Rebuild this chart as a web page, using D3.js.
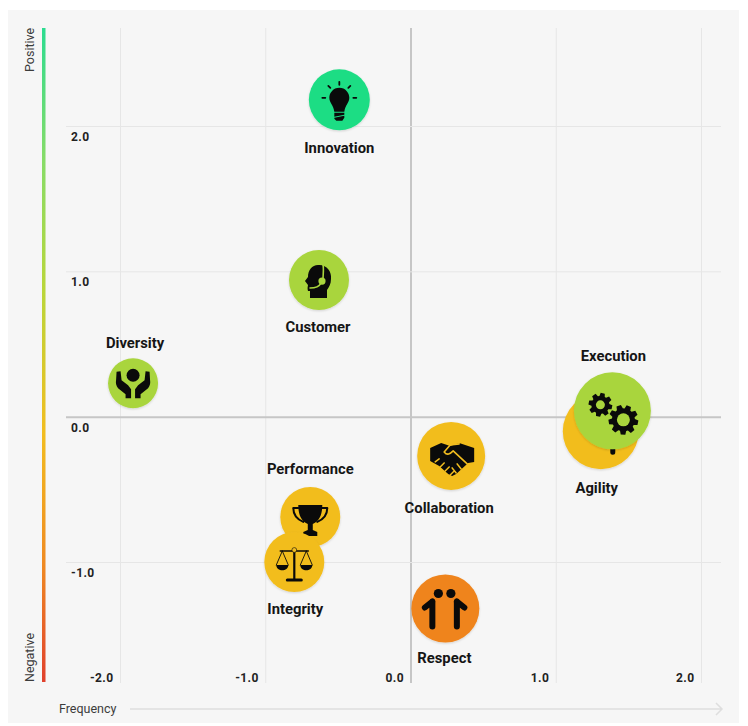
<!DOCTYPE html>
<html>
	<head>
		<meta charset="utf-8">
		<title>Values map</title>
		<style>
			body, html { margin: 0; background: #fff; }
			text { font-family: Roboto, sans-serif; }
			.tick text { font-size: 12px; font-weight: 700; fill: #222; letter-spacing: 0.4px; }
			.label { font-size: 14.8px; font-weight: 700; fill: #151515; text-anchor: middle; }
			.side { font-size: 12.5px; fill: #3c3c3c; }
		</style>
	</head>
	<body>

		<svg id="svg" width="748" height="726"></svg>

		<script src="https://d3js.org/d3.v7.min.js"></script>
		<script>
			// Data. Order is draw order (Execution over Agility, Integrity over Performance)
			const names = ['Innovation', 'Customer', 'Diversity', 'Agility', 'Execution', 'Collaboration', 'Performance', 'Integrity', 'Respect']
			const frequency = [-0.49, -0.63, -1.91, 1.31, 1.39, 0.28, -0.69, -0.80, 0.24]
			const sentiment = [2.18, 0.94, 0.23, -0.10, 0.04, -0.27, -0.69, -1.00, -1.32]
			const weight = [61, 60, 50, 76, 77, 68, 60, 60, 68]
			const xTicks = [-2, -1, 0, 1, 2]
			const yTicks = [2, 1, 0, -1]

			// Label offset from the circle centre
			const labelOffset = {
				Innovation: [0, 53], Customer: [-1, 52], Diversity: [2, -35], Agility: [-4, 62], Execution: [1, -50],
				Collaboration: [-2, 57], Performance: [0, -43], Integrity: [1, 52], Respect: [-1, 54]
			}

			const x = d3.scaleLinear().domain([-2, 2]).range([120, 701])
			const y = d3.scaleLinear().domain([-1, 2]).range([562, 126])
			const r = d3.scaleLinear().domain([0, 100]).range([0, 50])
			const color = d3.scaleThreshold().domain([-1.2, 0, 1.5]).range(['#ef841c', '#f2bd1f', '#a9d53d', '#1fdd84'])
			const tickFormat = d => d.toFixed(1)

			const plotTop = 28, plotBottom = 683, plotLeft = 66, plotRight = 721
			const svg = d3.select('#svg')

			svg.append('rect')
				.attr('x', 8).attr('y', 10)
				.attr('width', 731).attr('height', 713)
				.attr('fill', '#f6f6f6')

			// Gradient for the sentiment bar
			const grad = svg.append('defs').append('linearGradient')
				.attr('id', 'bar').attr('x1', 0).attr('x2', 0).attr('y1', 0).attr('y2', 1)
			const stops = [[0, '#2bdc90'], [0.2, '#86dc68'], [0.4, '#b9d63a'], [0.62, '#f2bd1f'], [0.82, '#ef8a22'], [1, '#e0402c']]
			grad.selectAll('stop').data(stops).enter().append('stop')
				.attr('offset', d => d[0]).attr('stop-color', d => d[1])

			const shadow = svg.select('defs').append('filter').attr('id', 'shadow')
				.attr('x', '-20%').attr('y', '-20%').attr('width', '140%').attr('height', '140%')
			shadow.append('feDropShadow')
				.attr('dx', 0).attr('dy', 1).attr('stdDeviation', 1)
				.attr('flood-color', '#000').attr('flood-opacity', 0.15)

			// Axes with their ticks stretched into grid lines
			const xAxis = svg.append('g')
				.attr('transform', `translate(0, ${plotBottom})`)
				.call(d3.axisBottom(x).tickValues(xTicks).tickFormat(tickFormat).tickSize(plotTop - plotBottom))
			xAxis.select('.domain').remove()
			xAxis.selectAll('.tick text').attr('text-anchor', 'end').attr('x', -7).attr('y', -1).attr('dy', 0)

			const yAxis = svg.append('g')
				.attr('transform', `translate(${plotLeft}, 0)`)
				.call(d3.axisLeft(y).tickValues(yTicks).tickFormat(tickFormat).tickSize(plotLeft - plotRight))
			yAxis.select('.domain').remove()
			yAxis.selectAll('.tick text').attr('text-anchor', 'start').attr('x', 5).attr('y', 14.5).attr('dy', 0)

			const styleGrid = (d) => d === 0 ? '#c6c6c6' : '#e6e6e6'
			xAxis.selectAll('.tick line').attr('stroke', styleGrid).attr('stroke-width', d => d === 0 ? 2 : 1)
			yAxis.selectAll('.tick line').attr('stroke', styleGrid).attr('stroke-width', d => d === 0 ? 2 : 1)

			// Sentiment bar and its two labels
			svg.append('rect')
				.attr('x', 42).attr('y', plotTop)
				.attr('width', 3.5).attr('height', plotBottom - plotTop - 1)
				.attr('fill', 'url(#bar)')
			svg.append('text').attr('class', 'side')
				.attr('transform', `translate(34, 72) rotate(-90)`).text('Positive')
			svg.append('text').attr('class', 'side')
				.attr('transform', `translate(34, 682) rotate(-90)`).text('Negative')

			// Frequency arrow
			svg.append('text').attr('class', 'side').attr('x', 59).attr('y', 713).text('Frequency')
			svg.append('path')
				.attr('d', 'M130,709H722M716,703L722,709L716,715')
				.attr('fill', 'none').attr('stroke', '#dedede').attr('stroke-width', 1.5)

			// Icons, drawn around 0,0 of each circle
			const black = '#0a0a0a'
			const add = (g, d, fill = black) => g.append('path').attr('d', d).attr('fill', fill)
			const line = (g, d, width, stroke = black) => g.append('path').attr('d', d)
				.attr('fill', 'none').attr('stroke', stroke).attr('stroke-width', width).attr('stroke-linecap', 'round').attr('stroke-linejoin', 'round')

			function gearPath(cx, cy, outer, inner, teeth) {
				const pts = []
				const step = 2 * Math.PI / teeth
				for (let i = 0; i < teeth; i++) {
					const a = i * step + 0.2
					;[[-0.3, inner], [-0.17, outer], [0.17, outer], [0.3, inner]].forEach(p => {
						pts.push([cx + p[1] * Math.cos(a + p[0] * step * 1.3), cy + p[1] * Math.sin(a + p[0] * step * 1.3)])
					})
				}
				return 'M' + pts.join('L') + 'Z'
			}

			const icons = {
				Innovation(g) {
					add(g, 'M0,-12C6,-12 10,-7 10,-2C10,3 6,5 5,12H-5C-6,5 -10,3 -10,-2C-10,-7 -6,-12 0,-12Z')
					add(g, 'M-5,13H5V15L-5,17ZM-5,18L5,16V18L3,21H-3L-5,19Z')
					line(g, 'M0,-18V-15M-11,-14L-9,-12M11,-14L9,-12M-17,-2H-14M14,-2H17', 1.8)
				},
				Customer(g, fill) {
					add(g, 'M-1,-15C7,-16 13,-9 12,-1C12,4 10,7 8,10V18H-9V11H-11C-12,8 -11,6 -11,5L-14,1L-11,-3C-11,-10 -7,-15 -1,-15Z')
					line(g, 'M4,-15C5,-11 4,-6 4,0', 1.6, fill)
					g.append('circle').attr('cx', 3).attr('cy', 1).attr('r', 3.6).attr('fill', fill)
					line(g, 'M2,3C0,7 -4,8 -9,8', 1.6, fill)
				},
				Diversity(g) {
					g.append('circle').attr('cy', -8).attr('r', 6.5).attr('fill', black)
					const hand = 'M-16.5,-11.5L-12.5,-12L-11.5,-3L-5,2L-2,6V15H-7.5V11L-15,5C-17,2 -17.5,0 -17,-3Z'
					add(g, hand)
					add(g, hand).attr('transform', 'scale(-1,1)')
				},
				Agility(g) {
					g.append('circle').attr('cx', 12).attr('cy', -12).attr('r', 5).attr('fill', black)
					line(g, 'M8,-4L12,8L12,21', 5)
				},
				Execution(g, fill) {
					add(g, gearPath(-12, -6, 12, 9, 8))
					add(g, gearPath(11, 9, 15, 11.5, 9))
					g.append('circle').attr('cx', -12).attr('cy', -6).attr('r', 4.5).attr('fill', fill)
					g.append('circle').attr('cx', 11).attr('cy', 9).attr('r', 6.5).attr('fill', fill)
				},
				Collaboration(g, fill) {
					add(g, 'M-21,-8L-10,-13L-1,-10L8,-13L23,-8V6L17,7L5,18L1,20L-3,18L-12,10L-21,5Z')
					line(g, 'M8,-12L-1,-11L-7,-4C-4,0 -1,-2 2,-5L16,8', 1.6, fill)
					line(g, 'M-16,6L-12,3M-11,11L-7,7M-6,15L-2,11M-1,19L3,15M5,17L1,12M10,13L6,8', 1.5, fill)
				},
				Performance(g) {
					add(g, 'M-12,-12H12C12,-4 10,4 2.5,7V13L7,15V19H-7V15L-2.5,13V7C-10,4 -12,-4 -12,-12Z')
					line(g, 'M-12,-9H-17C-17,-3 -14,2 -7,5M12,-9H17C17,-3 14,2 7,5', 2)
				},
				Integrity(g, fill) {
					line(g, 'M0,-12V18', 2.2)
					line(g, 'M-7,18H7', 3)
					line(g, 'M-14,-11H14', 1.6)
					line(g, 'M-12,-11L-18,3M-12,-11L-6,3M12,-11L6,3M12,-11L18,3', 0.9)
					add(g, 'M-18,3H-6C-6,10 -18,10 -18,3ZM6,3H18C18,10 6,10 6,3Z')
					g.append('circle').attr('cy', -12).attr('r', 2.4).attr('fill', fill).attr('stroke', black).attr('stroke-width', 0.6)
				},
				Respect(g) {
					g.append('circle').attr('cx', -7).attr('cy', -15).attr('r', 4.6).attr('fill', black)
					g.append('circle').attr('cx', 5.5).attr('cy', -15).attr('r', 4.6).attr('fill', black)
					line(g, 'M-13,-7V18M-13,-7L-20.5,-1', 6)
					line(g, 'M11.5,-7V18M11.5,-7L19,-1', 6)
				}
			}

			// Circles with their icons
			const nodes = svg.append('g').selectAll('g')
				.data(names).enter().append('g')
				.attr('transform', (d, i) => `translate(${x(frequency[i])}, ${y(sentiment[i])})`)

			nodes.append('circle')
				.attr('r', (d, i) => r(weight[i]))
				.attr('fill', (d, i) => color(sentiment[i]))
				.attr('filter', 'url(#shadow)')

			nodes.each(function (d, i) {
				icons[d](d3.select(this), color(sentiment[i]))
			})

			// Labels go on top of everything
			svg.append('g').selectAll('text')
				.data(names).enter().append('text')
				.attr('class', 'label')
				.attr('x', (d, i) => x(frequency[i]) + labelOffset[d][0])
				.attr('y', (d, i) => y(sentiment[i]) + labelOffset[d][1])
				.text(d => d)
		</script>
	</body>
</html>
